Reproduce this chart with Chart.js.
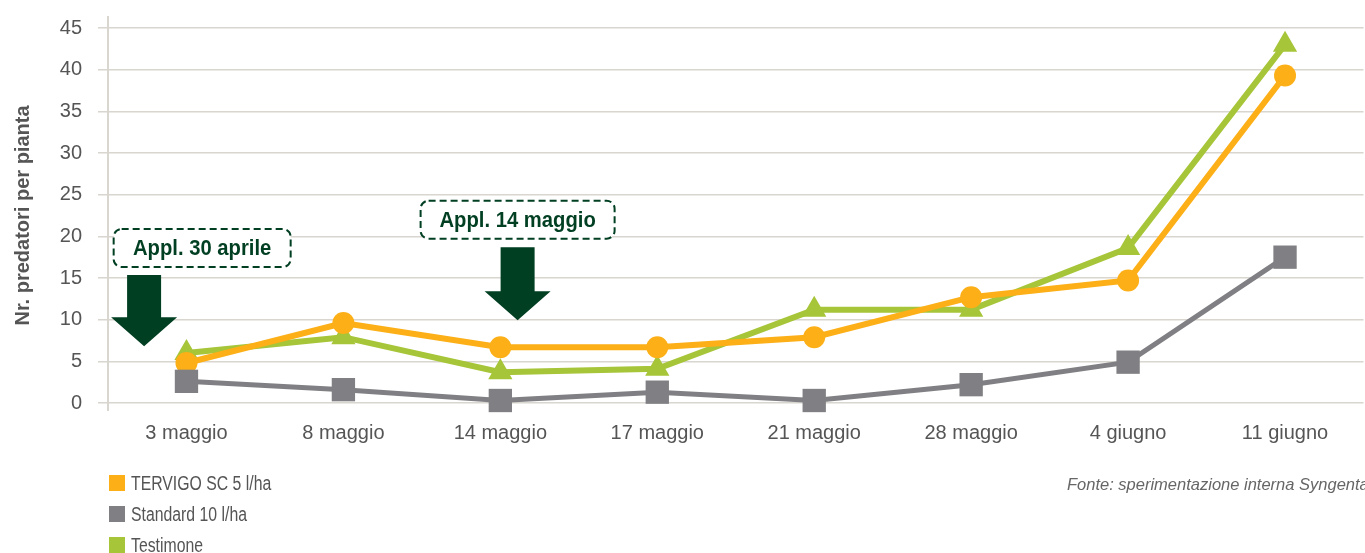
<!DOCTYPE html>
<html><head><meta charset="utf-8">
<script src="https://cdn.jsdelivr.net/npm/chart.js@4.4.1/dist/chart.umd.min.js"></script>
<style>
html,body{margin:0;padding:0;overflow:hidden;background:#fff;width:1365px;height:553px}
#wrap{position:absolute;left:0;top:0;width:1380px;height:553px}
</style></head><body>
<div id="wrap"><canvas id="c"></canvas></div>
<script>
const categories = ['3 maggio','8 maggio','14 maggio','17 maggio','21 maggio','28 maggio','4 giugno','11 giugno'];
const tervigo   = [4.8, 9.6, 6.7, 6.7, 7.9, 12.7, 14.7, 39.3];
const standard  = [2.6, 1.6, 0.3, 1.3, 0.3, 2.2, 4.9, 17.5];
const testimone = [6.0, 7.9, 3.7, 4.1, 11.2, 11.2, 18.6, 43.0];
const yTicks = [0, 5, 10, 15, 20, 25, 30, 35, 40, 45];
const seriesNames = ['TERVIGO SC 5 l/ha', 'Standard 10 l/ha', 'Testimone'];
const yTitle = 'Nr. predatori per pianta';
const sourceNote = 'Fonte: sperimentazione interna Syngenta';
const applLabels = ['Appl. 30 aprile', 'Appl. 14 maggio'];

const COL = {orange:'#FCAF17', gray:'#808084', green:'#A6C538', dark:'#013F22', grid:'#d9d5cf', text:'#555555'};

// annotation anchors (category-index / value units)
const applAnchors = [
  {box:{x:0.1, y:18.6, w:177, h:38}, arrow:{x:-0.27, top:15.35, head:10.3, tip:6.8}},
  {box:{x:2.11, y:22.0, w:194, h:38}, arrow:{x:2.11, top:18.7, head:13.4, tip:9.94}}
];

function xAt(chart, v){
  const s = chart.scales.x;
  const a = s.getPixelForValue(0), b = s.getPixelForValue(1);
  return a + (b - a) * v;
}
function narrowText(ctx, text, x, y, sx){
  ctx.save(); ctx.translate(x, y); ctx.scale(sx, 1); ctx.fillText(text, 0, 0); ctx.restore();
}

const extras = {
  id: 'extras',
  afterDraw(chart){
    const ctx = chart.ctx, ys = chart.scales.y, ca = chart.chartArea;
    ctx.save();
    // y axis line
    ctx.strokeStyle = COL.grid; ctx.lineWidth = 2;
    ctx.beginPath(); ctx.moveTo(ca.left, ca.top - 12); ctx.lineTo(ca.left, ca.bottom + 8); ctx.stroke();

    // annotations
    applAnchors.forEach((an, i) => {
      const bx = xAt(chart, an.box.x), by = ys.getPixelForValue(an.box.y);
      const w = an.box.w, h = an.box.h;
      ctx.beginPath();
      ctx.roundRect(bx - w/2, by - h/2, w, h, 8);
      ctx.fillStyle = '#fff'; ctx.fill();
      ctx.setLineDash([7, 4]); ctx.lineWidth = 2; ctx.strokeStyle = COL.dark; ctx.stroke();
      ctx.setLineDash([]);
      ctx.fillStyle = COL.dark;
      ctx.font = 'bold 22px "Liberation Sans", Arial, sans-serif';
      ctx.textAlign = 'center'; ctx.textBaseline = 'middle';
      narrowText(ctx, applLabels[i], bx, by + 1, 0.92);
      // arrow
      const ax = xAt(chart, an.arrow.x);
      const yTop = ys.getPixelForValue(an.arrow.top), yHead = ys.getPixelForValue(an.arrow.head), yTip = ys.getPixelForValue(an.arrow.tip);
      const sw = 17, hw = 33;
      ctx.beginPath();
      ctx.moveTo(ax - sw, yTop); ctx.lineTo(ax + sw, yTop); ctx.lineTo(ax + sw, yHead);
      ctx.lineTo(ax + hw, yHead); ctx.lineTo(ax, yTip); ctx.lineTo(ax - hw, yHead);
      ctx.lineTo(ax - sw, yHead); ctx.closePath();
      ctx.fill();
    });

    // legend
    const cols = [COL.orange, COL.gray, COL.green];
    ctx.font = '20px "Liberation Sans", Arial, sans-serif';
    ctx.textAlign = 'left'; ctx.textBaseline = 'middle';
    seriesNames.forEach((n, i) => {
      const y = 475 + i * 31;
      ctx.fillStyle = cols[i]; ctx.fillRect(109, y, 16, 16);
      ctx.fillStyle = COL.text; narrowText(ctx, n, 131, y + 9, 0.79);
    });

    // source
    ctx.font = 'italic 16.5px "Liberation Sans", Arial, sans-serif';
    ctx.fillStyle = '#666'; ctx.fillText(sourceNote, 1067, 485);
    ctx.restore();
  }
};

new Chart(document.getElementById('c'), {
  type: 'line',
  data: {
    labels: categories,
    datasets: [
      {label: seriesNames[0], data: tervigo, borderColor: COL.orange, backgroundColor: COL.orange, borderWidth: 6,
       pointStyle: 'circle', pointRadius: 11, pointBorderWidth: 0, order: 1, clip: false},
      {label: seriesNames[1], data: standard, borderColor: COL.gray, backgroundColor: COL.gray, borderWidth: 5,
       pointStyle: 'rect', pointRadius: 16.5, pointBorderWidth: 0, order: 0, clip: false},
      {label: seriesNames[2], data: testimone, borderColor: COL.green, backgroundColor: COL.green, borderWidth: 6,
       pointStyle: 'triangle', pointRadius: 14, pointBorderWidth: 0, order: 2, clip: false}
    ]
  },
  options: {
    responsive: true, maintainAspectRatio: false, animation: false,
    layout: {padding: {left: 0, top: 28, right: 6, bottom: 100}},
    plugins: {legend: {display: false}, tooltip: {enabled: false}},
    elements: {line: {tension: 0}},
    scales: {
      x: {
        offset: true,
        grid: {display: false, drawTicks: false},
        border: {display: false},
        ticks: {color: COL.text, font: {family: '"Liberation Sans", Arial, sans-serif', size: 20}, padding: 18},
        afterFit(s){ s.height = 50; }
      },
      y: {
        min: 0, max: 45,
        afterBuildTicks(s){ s.ticks = yTicks.map(v => ({value: v})); },
        grid: {color: COL.grid, lineWidth: 1.5, tickLength: 10, drawTicks: true},
        border: {display: false},
        ticks: {color: COL.text, font: {family: '"Liberation Sans", Arial, sans-serif', size: 20}, padding: 16},
        title: {display: true, text: yTitle, color: '#555', font: {family: '"Liberation Sans", Arial, sans-serif', size: 20, weight: 'bold'}, padding: {top: 11, bottom: 0}},
        afterFit(s){ s.width = 108; }
      }
    }
  },
  plugins: [extras]
});
</script>
</body></html>
